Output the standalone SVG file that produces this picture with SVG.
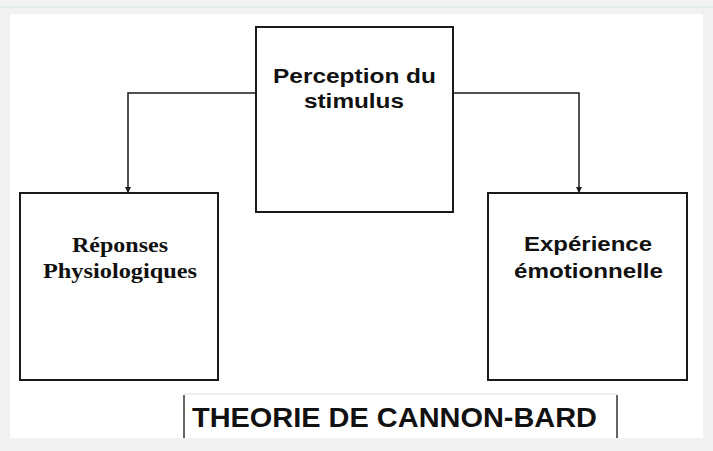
<svg xmlns="http://www.w3.org/2000/svg" width="713" height="451" viewBox="0 0 713 451">
<style>
.box{fill:#fff;stroke:#1a1a1a;stroke-width:2}
.conn{fill:none;stroke:#1a1a1a;stroke-width:1.5}
.sans{font-family:"Liberation Sans",Arial,sans-serif;font-weight:bold;fill:#111}
.serif{font-family:"Liberation Serif","Times New Roman",serif;font-weight:bold;fill:#111}
</style>
<defs>
<marker id="arr" markerWidth="6" markerHeight="6" refX="5" refY="3" orient="auto" markerUnits="userSpaceOnUse">
<path d="M0,0 L6,3 L0,6 z" fill="#1a1a1a"/>
</marker>
</defs>
<rect x="0" y="0" width="713" height="451" fill="#f1f1f1"/>
<line x1="0" y1="7" x2="713" y2="7" stroke="#d6e8e8" stroke-width="1"/>
<rect x="10" y="14" width="693" height="424" fill="#fff"/>
<g id="connectors">
<path class="conn" d="M256,93 H128 V192" marker-end="url(#arr)"/>
<path class="conn" d="M453,93 H579 V192" marker-end="url(#arr)"/>
</g>
<g id="perception">
<rect class="box" x="256" y="27" width="197" height="185"/>
<text class="sans" x="273" y="83" font-size="20" textLength="163" lengthAdjust="spacingAndGlyphs">Perception du</text>
<text class="sans" x="304" y="108" font-size="20" textLength="100" lengthAdjust="spacingAndGlyphs">stimulus</text>
</g>
<g id="reponses">
<rect class="box" x="20" y="193" width="198" height="187"/>
<text class="serif" x="72" y="252" font-size="20" textLength="96" lengthAdjust="spacingAndGlyphs">Réponses</text>
<text class="serif" x="43" y="278" font-size="20" textLength="154" lengthAdjust="spacingAndGlyphs">Physiologiques</text>
</g>
<g id="experience">
<rect class="box" x="488" y="193" width="199" height="187"/>
<text class="sans" x="524" y="251" font-size="20" textLength="128" lengthAdjust="spacingAndGlyphs">Expérience</text>
<text class="sans" x="514" y="278" font-size="20" textLength="149" lengthAdjust="spacingAndGlyphs">émotionnelle</text>
</g>
<g id="title">
<path d="M184,395 V438 M617,395 V438" stroke="#333" stroke-width="1.5" fill="none"/>
<line x1="184" y1="394" x2="617" y2="394" stroke="#ddd" stroke-width="1"/>
<text class="sans" x="192" y="427" font-size="27" textLength="405" lengthAdjust="spacingAndGlyphs">THEORIE DE CANNON-BARD</text>
</g>
<rect x="0" y="438" width="713" height="13" fill="#f1f1f1"/>
</svg>
